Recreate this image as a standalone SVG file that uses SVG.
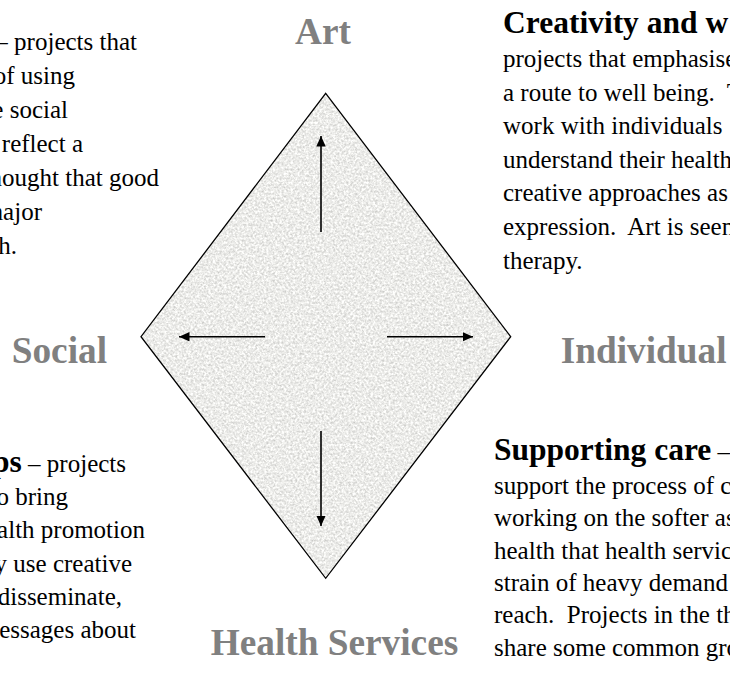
<svg xmlns="http://www.w3.org/2000/svg" width="730" height="677" viewBox="0 0 730 677" xml:space="preserve">
<style>
.body{font-family:"Liberation Serif","Times New Roman",serif;font-size:25px;fill:#000;white-space:pre}
.l{text-anchor:end}
.hd{font-weight:bold;font-size:31.5px}
.lab{font-family:"Liberation Serif","Times New Roman",serif;font-size:37.3px;font-weight:bold;fill:#808080}
.arr{stroke:#000;stroke-width:1.6;fill:none;marker-end:url(#ah)}
</style>
<defs>
<marker id="ah" markerUnits="userSpaceOnUse" markerWidth="11" markerHeight="10" refX="10.5" refY="4.75" orient="auto">
<path d="M0,0 L10.5,4.75 L0,9.5 z" fill="#000"/>
</marker>
<filter id="granite" x="0" y="0" width="100%" height="100%" color-interpolation-filters="sRGB">
<feTurbulence type="fractalNoise" baseFrequency="0.45" numOctaves="3" seed="7" result="n"/>
<feColorMatrix in="n" type="matrix" values="0.35 0 0 0 0.75  0.35 0 0 0 0.75  0.35 0 0 0 0.74  0 0 0 0 1" result="g"/>
<feComposite in="g" in2="SourceGraphic" operator="in"/>
</filter>
</defs>
<g id="diamond">
<polygon points="325.7,93.3 510.7,336.7 325.7,578.3 141,336.7" fill="#e9e9e8" filter="url(#granite)"/>
<polygon points="325.7,93.3 510.7,336.7 325.7,578.3 141,336.7" fill="none" stroke="#000" stroke-width="1.3"/>
</g>
<g id="connectors">
<line class="arr" x1="321" y1="232" x2="321" y2="136"/>
<line class="arr" x1="321" y1="431" x2="321" y2="526"/>
<line class="arr" x1="265" y1="336.7" x2="179" y2="336.7"/>
<line class="arr" x1="387" y1="336.7" x2="473" y2="336.7"/>
</g>
<g id="label-art"><text class="lab" x="295" y="44">Art</text></g>
<g id="label-social"><text class="lab" x="11.7" y="362.7">Social</text></g>
<g id="label-individual"><text class="lab" x="560.7" y="363.3">Individual</text></g>
<g id="label-health-services"><text class="lab" x="210.7" y="655">Health Services</text></g>
<g id="text-top-left">
<text class="body l" x="137" y="50">– projects that</text>
<text class="body l" x="75" y="84">of using</text>
<text class="body l" x="68" y="118">e social</text>
<text class="body l" x="83" y="152">reflect a</text>
<text class="body l" x="159" y="186">hought that good</text>
<text class="body l" x="42" y="220">major</text>
<text class="body l" x="17" y="254">h.</text>
</g>
<g id="text-top-right">
<text class="body hd" x="503" y="33">Creativity and w</text>
<text class="body" x="503" y="67">projects that emphasise</text>
<text class="body" x="503" y="100.6">a route to well being.  T</text>
<text class="body" x="503" y="134.2">work with individuals</text>
<text class="body" x="503" y="167.8">understand their health</text>
<text class="body" x="503" y="201.4">creative approaches as</text>
<text class="body" x="503" y="235">expression.  Art is seen</text>
<text class="body" x="503" y="268.6">therapy.</text>
</g>
<g id="text-bottom-left">
<text class="body l" x="126" y="471.7"><tspan font-weight="bold" font-size="31.5">ps</tspan> – projects</text>
<text class="body l" x="68" y="505">o bring</text>
<text class="body l" x="145" y="538.3">alth promotion</text>
<text class="body l" x="132" y="571.7">y use creative</text>
<text class="body l" x="122" y="605">disseminate,</text>
<text class="body l" x="136" y="638.3">essages about</text>
</g>
<g id="text-bottom-right">
<text class="body" x="494" y="460"><tspan font-weight="bold" font-size="31.5">Supporting care</tspan> –</text>
<text class="body" x="494" y="494">support the process of c</text>
<text class="body" x="494" y="526.3">working on the softer as</text>
<text class="body" x="494" y="558.6">health that health servic</text>
<text class="body" x="494" y="590.9">strain of heavy demand</text>
<text class="body" x="494" y="623.2">reach.  Projects in the th</text>
<text class="body" x="494" y="655.5">share some common gro</text>
</g>
</svg>
